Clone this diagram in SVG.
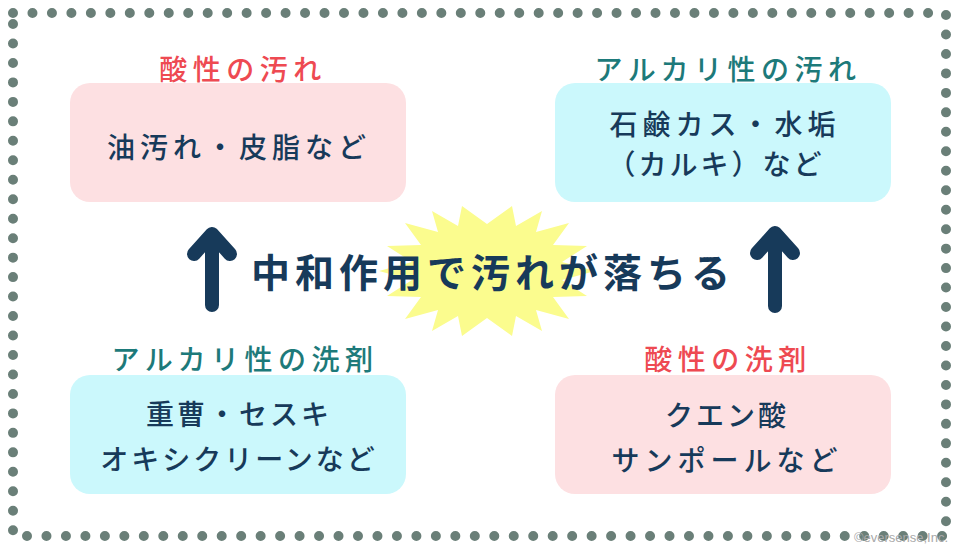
<svg xmlns="http://www.w3.org/2000/svg" width="960" height="554" viewBox="0 0 960 554">
<style>
.dots{fill:none;stroke:#6a7f78;stroke-width:10;stroke-linecap:round;stroke-dasharray:0 19.47}
.pink{fill:#fde0e2}
.cyan{fill:#cbf8fc}
.t{font-family:"Noto Sans CJK JP","Noto Sans",sans-serif;text-anchor:middle}
.red{fill:#ee4a52;font-size:28px;font-weight:500;letter-spacing:5.5px}
.teal{fill:#1d7a7a;font-size:28px;font-weight:500;letter-spacing:5.5px}
.body{fill:#173a5a;font-size:28px;font-weight:500;letter-spacing:3px}
.wide{letter-spacing:5px}
.main{fill:#173a5a;font-size:39px;font-weight:700;letter-spacing:5px}
.arrow{fill:none;stroke:#173a5a;stroke-width:14;stroke-linecap:round;stroke-linejoin:round}
</style>
<rect width="960" height="554" fill="#ffffff"/>
<g id="border">
<line class="dots" x1="13" y1="13" x2="929" y2="13"/>
<line class="dots" x1="946" y1="15" x2="946" y2="522"/>
<line class="dots" x1="27" y1="536" x2="943" y2="536"/>
<line class="dots" x1="13" y1="24" x2="13" y2="531"/>
</g>
<g id="burst">
<polygon fill="#fbfc8e" points="462,206 487,224 512,206 516,226 542,211 536,232 569,223 553,245 587,246 562,262 595,271 562,280 587,296 553,297 569,319 536,310 542,331 516,316 512,336 487,318 462,336 458,316 432,331 438,310 405,319 421,297 387,296 412,280 379,271 412,262 387,246 421,245 405,223 438,232 432,211 458,226"/>
</g>
<g id="acid-dirt">
<rect class="pink" x="70" y="83" width="336" height="119" rx="20"/>
<text class="t red" x="243" y="80">酸性の汚れ</text>
<text class="t body wide" x="239" y="158">油汚れ・皮脂など</text>
</g>
<g id="alkali-dirt">
<rect class="cyan" x="555" y="83" width="336" height="119" rx="20"/>
<text class="t teal" x="728" y="80">アルカリ性の汚れ</text>
<text class="t body wide" x="725" y="135">石鹸カス・水垢</text>
<text class="t body" x="716" y="175">（カルキ）など</text>
</g>
<g id="alkali-detergent">
<rect class="cyan" x="70" y="375" width="336" height="119" rx="20"/>
<text class="t teal" x="245" y="370">アルカリ性の洗剤</text>
<text class="t body" x="239" y="425">重曹・セスキ</text>
<text class="t body" x="239" y="470">オキシクリーンなど</text>
</g>
<g id="acid-detergent">
<rect class="pink" x="555" y="375" width="336" height="119" rx="20"/>
<text class="t red" x="728" y="370">酸性の洗剤</text>
<text class="t body" x="727" y="426">クエン酸</text>
<text class="t body wide" x="727" y="471">サンポールなど</text>
</g>
<g id="connectors">
<path class="arrow" d="M212,237 V305 M194,254 L212,234 L230,254"/>
<path class="arrow" d="M775,236 V306 M757,253 L775,233 L793,253"/>
</g>
<g id="center-label">
<text class="t main" x="493" y="287">中和作用で汚れが落ちる</text>
</g>
<text x="948" y="542" font-family="'Liberation Sans',Arial,sans-serif" font-size="13" fill="#a8a8a8" text-anchor="end">©eversense,Inc.</text>
</svg>
